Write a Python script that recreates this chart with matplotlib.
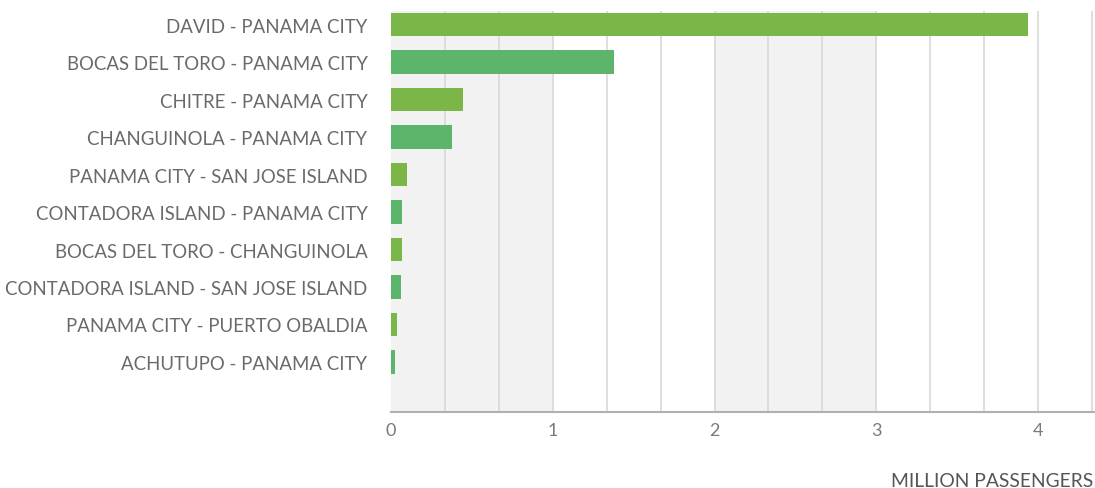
import matplotlib
matplotlib.use("Agg")
import matplotlib.pyplot as plt

plt.rcParams['font.family'] = ['Lato', 'DejaVu Sans']

routes = [
    "DAVID - PANAMA CITY",
    "BOCAS DEL TORO - PANAMA CITY",
    "CHITRE - PANAMA CITY",
    "CHANGUINOLA - PANAMA CITY",
    "PANAMA CITY - SAN JOSE ISLAND",
    "CONTADORA ISLAND - PANAMA CITY",
    "BOCAS DEL TORO - CHANGUINOLA",
    "CONTADORA ISLAND - SAN JOSE ISLAND",
    "PANAMA CITY - PUERTO OBALDIA",
    "ACHUTUPO - PANAMA CITY",
]
passengers = [3.94, 1.38, 0.445, 0.38, 0.10, 0.068, 0.066, 0.064, 0.04, 0.025]
x_ticks = [0, 1, 2, 3, 4]

green_a = "#7ab648"
green_b = "#5db56b"
text_grey = "#6a6a6a"

fig = plt.figure(figsize=(10.95, 4.89), dpi=100)
ax = fig.add_axes([391 / 1095, 1 - 413 / 489, 1 - 391 / 1095, (413 - 12) / 489])

xmax = 4.352
# alternating background bands, one per unit
for i in range(0, 4, 2):
    ax.axvspan(i, i + 1, color="#f2f2f2", zorder=0, lw=0)

# thin grid every third of a unit
k = 1
while k / 3 <= xmax:
    ax.axvline(k / 3, color="#d8d8d8", lw=1.2, zorder=1)
    k += 1

ypos = list(range(len(routes)))
colors = [green_a if i % 2 == 0 else green_b for i in ypos]
ax.barh(ypos, passengers, height=0.62, color=colors, zorder=2)

ax.set_xlim(0, xmax)
ax.set_ylim((413 - 25.5) / 37.5, (12 - 25.5) / 37.5)

ax.set_yticks(ypos)
ax.set_yticklabels(routes, fontsize=13.4, color=text_grey)
ax.set_xticks(x_ticks)
ax.set_xticklabels([str(t) for t in x_ticks], fontsize=13, color="#7a7a7a")
ax.tick_params(axis='y', length=0, pad=17)
ax.tick_params(axis='x', length=0, pad=7)

for side in ("top", "right", "left"):
    ax.spines[side].set_visible(False)
ax.spines["bottom"].set_color("#b0b0b0")
ax.spines["bottom"].set_linewidth(1.5)

fig.text(1093 / 1095, 1 - 482 / 489, "MILLION PASSENGERS", ha="right", va="center",
         fontsize=13.9, color="#555555")

fig.savefig("out.png", dpi=100, facecolor="white")
